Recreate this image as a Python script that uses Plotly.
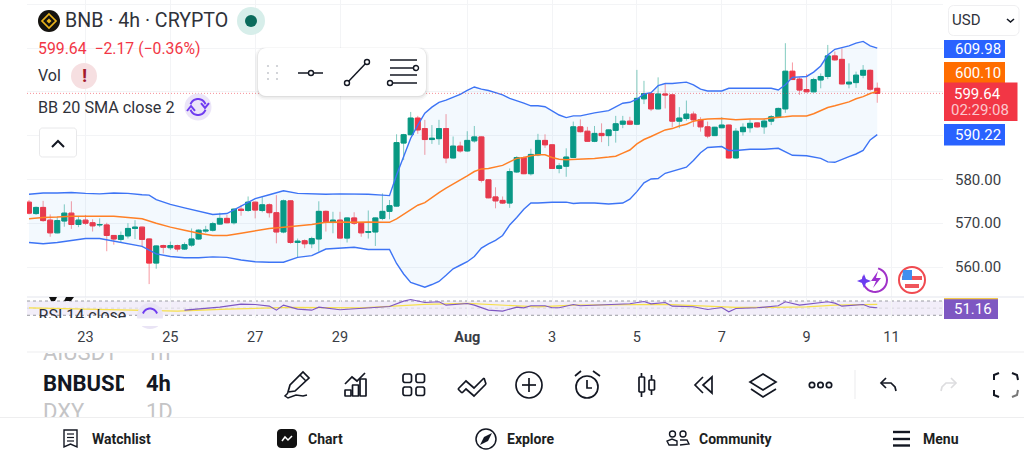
import math
import pandas as pd
import plotly.graph_objects as go

# ---------- data ----------
first_bar = "2024-07-21 16:00"
opens = [574.8,572.2,573.6,570.7,567.8,570.5,572.3,569.7,570.7,570.1,
569.6,569.6,567.2,566.3,567.1,568.8,569.1,566.4,560.9,564.9,
564.4,564.9,564.1,565.0,566.4,568.2,568.4,569.8,571.1,570.1,
573.2,572.9,574.8,572.9,574.2,572.4,568.0,575.1,565.6,566.0,
565.3,566.4,572.7,570.3,570.7,566.6,571.2,570.0,567.9,568.0,
571.1,572.7,573.9,588.3,590.2,594.0,591.6,589.1,589.3,591.6,
584.9,587.6,586.5,588.8,589.7,579.9,576.0,575.2,574.6,581.7,
585.0,581.3,585.6,588.9,587.9,582.5,583.0,585.0,592.0,591.0,
588.7,590.5,590.0,591.2,592.6,593.3,592.6,598.4,599.6,596.1,
599.5,599.3,593.3,593.9,594.9,593.6,592.0,590.0,591.8,592.4,
584.9,590.9,591.8,592.9,592.0,593.3,594.3,596.1,604.7,602.9,
600.5,600.0,602.7,603.5,608.2,607.4,601.8,602.1,603.8,604.9,600.8]
highs = [575.3,573.8,575.1,572.0,571.5,574.3,575.0,571.5,571.9,570.9,
571.1,570.1,567.3,568.1,570.0,570.7,569.2,566.5,564.9,565.1,
565.8,565.1,565.6,568.8,568.6,569.4,570.3,572.4,571.9,573.4,
574.2,576.1,574.9,576.1,574.5,576.4,575.4,575.2,566.5,566.3,
566.9,575.0,572.9,572.6,572.6,571.3,572.5,570.2,572.9,571.3,
576.8,575.3,590.3,590.4,595.4,594.5,593.6,592.4,593.6,594.9,
589.8,588.6,591.0,592.2,589.8,580.0,578.2,576.1,582.5,585.3,
585.3,587.0,590.4,590.3,588.0,583.7,587.1,593.2,593.7,592.0,
592.2,592.8,591.4,594.5,594.5,594.3,605.0,602.5,599.7,603.3,
601.9,599.4,596.5,598.0,595.5,594.2,593.2,592.0,594.2,592.5,
591.7,592.8,593.7,593.0,593.9,594.7,596.4,611.1,606.7,603.3,
604.1,603.2,604.2,610.7,609.2,609.9,606.5,604.6,606.1,605.1,602.1]
lows = [572.0,571.9,570.3,566.9,567.7,569.2,568.7,569.1,569.6,568.1,
569.1,563.6,565.1,565.6,566.5,566.4,564.6,556.1,559.6,563.1,
563.9,563.5,563.9,564.6,566.2,567.8,568.1,569.6,570.0,569.7,
571.7,572.6,571.1,572.5,571.3,565.4,567.7,565.3,562.2,564.3,
564.3,563.5,568.1,567.7,566.5,565.6,569.6,566.9,566.5,564.8,
570.7,570.9,573.8,584.4,590.1,590.4,585.6,588.1,587.9,583.7,
584.8,586.1,586.3,588.4,579.3,575.7,573.4,574.4,573.5,581.5,
581.2,580.9,585.3,587.2,582.4,581.4,580.6,584.9,590.7,588.6,
588.5,588.5,587.6,588.4,591.7,592.4,592.4,597.2,595.6,596.0,
596.2,591.9,591.7,593.4,592.0,590.9,589.4,589.9,591.7,584.8,
584.8,590.0,590.7,591.8,590.4,592.4,594.2,595.2,602.7,599.3,
599.9,599.9,600.8,602.9,607.1,601.7,600.8,600.9,603.1,600.2,597.5]
closes = [572.3,573.6,570.6,567.8,570.6,572.3,569.7,570.7,570.0,569.4,
569.7,567.2,566.4,567.2,568.8,569.1,566.3,560.9,564.8,564.5,
564.9,564.1,565.1,566.4,568.4,568.4,569.9,571.1,570.1,573.2,
572.9,574.8,573.0,574.2,572.4,568.0,575.1,565.6,565.9,565.3,
566.5,572.7,570.3,570.7,566.6,571.2,570.0,567.8,568.1,571.2,
572.7,574.0,588.4,590.2,594.0,591.3,589.1,589.4,591.6,584.9,
587.6,586.5,588.9,589.7,579.8,575.8,575.1,574.6,581.8,585.0,
581.3,585.7,588.9,587.9,582.5,583.1,585.1,592.0,590.9,588.7,
590.5,590.0,591.3,592.7,593.3,592.6,598.5,599.6,596.1,599.5,
599.3,593.3,594.0,594.9,593.6,592.0,589.9,591.9,592.4,584.9,
591.0,591.9,592.8,592.0,593.3,594.3,596.2,604.7,602.8,600.4,
600.0,602.8,603.5,608.2,607.3,601.8,602.2,603.8,604.9,600.6,599.64]

upper_bars = [0,2,4,6,8,10,12,14,16,17,18,20,22,24,26,28,30,32,34,36,38,40,42,44,46,48,50,51,
52,53,54,55,56,57,58,59,60,61,62,63,64,65,66,67,68,69,70,71,72,73,74,75,76,77,78,80,82,83,84,85,86,
87,88,89,90,91,92,93,94,95,96,98,99,100,102,105,106,107,108,109,110,111,112,113,114,115,116,117,118,119,120]
upper_band = [576.6,576.9,576.9,577.0,576.8,576.7,576.9,576.8,576.5,576.4,575.4,574.3,573.5,572.8,572.0,572.2,573.9,575.6,576.5,577.4,576.8,576.7,576.6,576.7,576.7,576.6,576.4,576.3,
581.0,585.0,589.4,592.4,595.1,596.5,597.6,598.1,598.7,599.4,600.3,601.1,600.6,600.3,599.8,599.3,598.5,598.0,597.4,596.8,596.8,596.6,595.6,594.7,594.1,594.5,594.5,595.2,595.7,596.5,597.4,597.6,598.3,
599.5,599.8,601.4,601.9,601.9,602.0,602.2,601.6,600.6,600.2,600.2,600.8,600.8,600.8,600.8,600.4,601.6,603.3,603.4,603.5,604.5,605.9,608.4,609.7,610.1,610.5,611.1,611.5,610.5,609.98]

basis_bars = [0,2,4,6,8,10,12,14,16,18,20,22,24,26,28,30,32,34,36,38,40,42,44,46,48,50,51,
52,53,54,55,56,57,58,59,60,61,62,63,64,65,66,67,68,69,70,71,72,73,74,75,76,78,80,82,83,84,85,86,87,
88,89,90,91,92,93,94,95,96,98,100,102,104,105,106,107,108,110,111,112,113,114,115,116,117,118,119,120]
basis_band = [571.0,571.3,571.4,571.6,571.6,571.6,571.6,571.3,571.0,570.0,569.1,568.4,567.7,567.2,567.2,567.7,568.3,568.8,569.1,569.4,569.7,570.2,570.3,570.2,570.3,570.2,570.2,
571.0,572.0,573.1,574.1,574.7,575.9,577.0,578.0,578.9,579.9,580.8,581.8,582.4,582.5,582.8,583.2,584.0,584.8,585.0,585.4,585.6,585.6,585.0,584.6,584.5,584.6,584.8,585.1,585.3,586.0,586.7,588.1,589.1,
589.8,590.5,591.3,591.6,592.2,592.6,593.3,593.6,593.8,593.9,593.6,593.8,593.8,594.0,594.1,594.3,594.5,594.5,595.0,595.7,596.4,596.8,597.2,597.7,598.4,598.9,599.6,600.10]

lower_bars = [0,2,4,6,8,10,12,14,16,18,20,22,24,26,28,30,32,34,36,38,40,42,44,46,48,50,51,
52,53,54,55,56,57,58,59,60,61,62,63,64,65,66,67,68,69,70,71,72,74,76,77,78,80,82,84,85,86,87,88,89,90,
92,93,94,95,96,98,99,100,102,104,106,107,108,110,112,113,114,116,117,118,119,120]
lower_band = [565.6,565.3,565.6,566.1,566.5,566.5,565.9,565.4,564.7,563.0,562.4,562.1,562.1,562.3,562.2,561.6,561.2,561.1,561.1,562.2,562.6,564.1,564.3,564.5,564.0,564.0,564.0,
560.8,558.4,556.5,555.9,555.4,556.0,556.7,558.1,559.6,560.4,561.2,562.4,564.3,565.3,566.1,567.2,569.6,571.3,573.2,574.6,574.6,574.8,574.8,574.5,574.6,574.6,574.4,574.6,575.5,577.2,579.2,580.1,580.2,581.4,
582.3,582.8,584.3,586.1,587.3,587.5,586.6,586.6,586.9,586.9,587.1,586.3,585.5,585.4,584.8,584.0,583.9,585.2,585.8,586.6,589.0,590.22]

rsi_bars = [22,25,27,30,32,34,35,36,38,40,41,44,47,49,51,53,54,56,58,59,61,62,63,65,67,69,70,71,73,74,75,77,78,82,85,87,88,90,91,94,96,98,99,100,103,106,107,109,111,113,114,115,118,119,120]
rsi_values = [44.4,49.1,52.8,61.2,60.3,55.6,44.4,58.4,47.2,44.4,52.8,45.3,49.1,51.9,54.7,69.6,74.3,65.9,67.8,58.4,60.3,63.1,58.4,44.4,41.6,52.8,50.9,56.5,56.5,50.9,50.9,60.3,56.5,60.3,62.1,68.7,62.1,65.9,55.6,53.7,46.3,51.9,39.7,49.1,50.9,56.5,67.8,58.4,62.1,67.8,64.0,55.6,60.3,52.8,51.16]
rsi_ma_bars = [0,14,21,28,37,47,56,62,67,72,77,90,95,100,105,110,114,120]
rsi_ma_values = [50.9,45.3,41.6,47.2,51.9,50.9,60.3,63.1,58.4,53.7,58.4,60.3,56.5,51.9,51.9,53.7,58.4,60.3]

price_ticks = [560,570,580,590,600,610,620]
price_labels = ["560.00","570.00","580.00","","","",""]
time_ticks = ["2024-07-23","2024-07-25","2024-07-27","2024-07-29","2024-08-01","2024-08-03","2024-08-05","2024-08-07","2024-08-09","2024-08-11"]
time_labels = ["23","25","27","29","<b>Aug</b>","3","5","7","9","11"]

last_price = 599.64
# ---------- geometry of the page ----------
W, H = 1024, 461
FONT = "Roboto"
INK = "#131722"
TXT = "#2f323a"
RED = "#F23645"
GREEN = "#089981"
BLUE = "#3d74f5"
ORANGE = "#FF8026"
PL, PR = 27, 943          # pane left / right in page pixels
GRID = "#f3f4f6"

def px(x): return x / W
def py(y): return 1 - y / H

shapes, notes = [], []

def rect(x0, y0, x1, y1, fill=None, line=None, lw=1, layer="above"):
    shapes.append(dict(type="rect", xref="paper", yref="paper", x0=px(x0), x1=px(x1), y0=py(y0), y1=py(y1),
                       fillcolor=fill or "rgba(0,0,0,0)", line=dict(color=line or "rgba(0,0,0,0)", width=lw if line else 0), layer=layer))

def circle(cx, cy, r, fill=None, line=None, lw=1):
    shapes.append(dict(type="circle", xref="paper", yref="paper", x0=px(cx - r), x1=px(cx + r), y0=py(cy + r), y1=py(cy - r),
                       fillcolor=fill or "rgba(0,0,0,0)", line=dict(color=line or "rgba(0,0,0,0)", width=lw if line else 0), layer="above"))

def poly(pts, fill=None, line=INK, lw=1.7, close=False):
    d = "M" + " L".join(f"{px(x):.5f},{py(y):.5f}" for x, y in pts) + (" Z" if close else "")
    shapes.append(dict(type="path", xref="paper", yref="paper", path=d, fillcolor=fill or "rgba(0,0,0,0)",
                       line=dict(color=line or "rgba(0,0,0,0)", width=lw if line else 0), layer="above"))

def rrect(x0, y0, x1, y1, r, fill=None, line=INK, lw=1.7):
    pts = []
    for cx, cy, a0 in ((x1 - r, y0 + r, -90), (x1 - r, y1 - r, 0), (x0 + r, y1 - r, 90), (x0 + r, y0 + r, 180)):
        for k in range(7):
            a = math.radians(a0 + 15 * k)
            pts.append((cx + r * math.cos(a), cy + r * math.sin(a)))
    poly(pts, fill=fill, line=line, lw=lw, close=True)

def arc(cx, cy, r, a0, a1, line=INK, lw=1.7):
    n = max(6, int(abs(a1 - a0) / 12))
    poly([(cx + r * math.cos(math.radians(a0 + (a1 - a0) * k / n)), cy + r * math.sin(math.radians(a0 + (a1 - a0) * k / n))) for k in range(n + 1)], line=line, lw=lw)

def text(x, y, s, size=15, color=TXT, anchor="left"):
    notes.append(dict(x=px(x), y=py(y), xref="paper", yref="paper", text=s, showarrow=False, xanchor=anchor, yanchor="middle",
                      font=dict(family=FONT, size=size, color=color), borderpad=0, borderwidth=0))

def sync_icon(cx, cy, r=8, col="#6f3cf0"):
    arc(cx, cy, r, 200, 340, line=col, lw=2)
    arc(cx, cy, r, 20, 160, line=col, lw=2)
    poly([(cx + r + 3, cy - 4), (cx + r - 1, cy + 1), (cx + r - 5, cy - 4)], line=col, lw=2)
    poly([(cx - r - 3, cy + 4), (cx - r + 1, cy - 1), (cx - r + 5, cy + 4)], line=col, lw=2)

# ---------- marks ----------
t0 = pd.Timestamp(first_bar)
step = pd.Timedelta(hours=4)
bars = [t0 + i * step for i in range(len(closes))]
at = lambda idx: [t0 + i * step for i in idx]
tops = [max(o, c) for o, c in zip(opens, closes)]
bots = [min(o, c) for o, c in zip(opens, closes)]

fig = go.Figure()
# wicks (pale) and bodies (solid)
fig.add_trace(go.Candlestick(x=bars, open=opens, high=highs, low=lows, close=closes, whiskerwidth=0, hoverinfo="skip", showlegend=False,
    increasing=dict(line=dict(color="rgba(8,153,129,0.5)", width=1), fillcolor="rgba(0,0,0,0)"),
    decreasing=dict(line=dict(color="rgba(242,54,69,0.5)", width=1), fillcolor="rgba(0,0,0,0)")))
fig.add_trace(go.Candlestick(x=bars, open=opens, high=tops, low=bots, close=closes, whiskerwidth=0, hoverinfo="skip", showlegend=False,
    increasing=dict(line=dict(color=GREEN, width=1), fillcolor=GREEN),
    decreasing=dict(line=dict(color=RED, width=1), fillcolor=RED)))
fig.add_trace(go.Scatter(x=at(lower_bars), y=lower_band, mode="lines", line=dict(color=BLUE, width=1.4), hoverinfo="skip", showlegend=False))
fig.add_trace(go.Scatter(x=at(upper_bars), y=upper_band, mode="lines", line=dict(color=BLUE, width=1.4), fill="tonexty",
                         fillcolor="rgba(33,150,243,0.055)", hoverinfo="skip", showlegend=False))
fig.add_trace(go.Scatter(x=at(basis_bars), y=basis_band, mode="lines", line=dict(color=ORANGE, width=1.5), hoverinfo="skip", showlegend=False))

fig.add_trace(go.Scatter(x=at(rsi_ma_bars), y=rsi_ma_values, mode="lines", line=dict(color="#F7E04B", width=1.2), xaxis="x2", yaxis="y2", hoverinfo="skip", showlegend=False))
fig.add_trace(go.Scatter(x=at(rsi_bars), y=rsi_values, mode="lines", line=dict(color="#7E57C2", width=1.1), xaxis="x2", yaxis="y2", hoverinfo="skip", showlegend=False))
fig.add_trace(go.Scatter(x=[t0 + 1.35 * step], y=[24.5], mode="text", text=["RSI 14 close"], textposition="middle right", cliponaxis=True,
                         textfont=dict(family=FONT, size=16, color=TXT), xaxis="x2", yaxis="y2", hoverinfo="skip", showlegend=False))
# scroll pickers, clipped by their own little panes
fig.add_trace(go.Scatter(x=[43, 43, 43], y=[354, 385, 413], mode="text", text=["AIUSDT", "<b>BNBUSDT</b>", "DXY"], textposition="middle right", cliponaxis=True,
                         textfont=dict(family=FONT, size=22, color=["#c4c4c6", INK, "#c4c4c6"]), xaxis="x3", yaxis="y3", hoverinfo="skip", showlegend=False))
fig.add_trace(go.Scatter(x=[146, 146, 146], y=[354, 385, 413], mode="text", text=["1h", "<b>4h</b>", "1D"], textposition="middle right", cliponaxis=True,
                         textfont=dict(family=FONT, size=22, color=["#c4c4c6", INK, "#c4c4c6"]), xaxis="x4", yaxis="y4", hoverinfo="skip", showlegend=False))

# ---------- panes and page furniture ----------
ylo = lambda v: dict(type="line", xref="paper", yref="y2", x0=px(PL), x1=px(PR), y0=v, y1=v, layer="below")
shapes.append(dict(type="rect", xref="paper", yref="y2", x0=px(PL), x1=px(PR), y0=30, y1=70, fillcolor="rgba(126,87,194,0.10)", line=dict(width=0), layer="below"))
shapes.append({**ylo(70), "line": dict(color="#9a9ca3", width=1, dash="3px,3px")})
shapes.append({**ylo(30), "line": dict(color="#9a9ca3", width=1, dash="3px,3px")})
shapes.append({**ylo(50), "line": dict(color="#d8d6de", width=1, dash="3px,3px")})
shapes.append(dict(type="line", xref="paper", yref="y", x0=px(PL), x1=px(PR), y0=last_price, y1=last_price, layer="above",
                   line=dict(color="rgba(242,54,69,0.55)", width=1, dash="1px,2px")))
rect(PL, 296.5, W, 297.5, fill="#e3e5ee")
rect(PL, 351.5, W, 352.5, fill="#eeeeef")
rect(0, 417, W, 418, fill="#eeeeef")

# logo + header badges
circle(49, 21, 11, fill="#15130f")
poly([(49, 14), (56, 21), (49, 28), (42, 21)], line="#e8b21b", lw=1.7, close=True)
poly([(49, 18.5), (51.5, 21), (49, 23.5), (46.5, 21)], fill="#e8b21b", line=None, close=True)
circle(251, 21, 14, fill="#d7eeea")
circle(251, 21, 6, fill="#0b6b5c")
text(65, 21, "BNB · 4h · CRYPTO", 19.6, "#2f323a")
text(38, 48, "599.64  −2.17 (−0.36%)", 15.8, RED)
text(38, 75, "Vol", 16)
circle(84, 76, 13, fill="#f6dfe1")
text(84, 75, "<b>!</b>", 19, "#a31a2c", "center")
text(38, 107, "BB 20 SMA close 2", 16.2)
circle(198, 107, 13.5, fill="#ebe5f8")
sync_icon(198, 107)
rrect(39.5, 128, 76.5, 157, 3, fill="white", line="#e8e8ea", lw=1)
poly([(52, 147), (58, 141), (64, 147)], line=INK, lw=2)

# floating drawing toolbar
rrect(255, 47, 429, 100, 10, fill="rgba(0,0,0,0.03)", line=None)
rrect(256.5, 48, 427.5, 98.5, 9, fill="rgba(0,0,0,0.04)", line=None)
rrect(257.5, 48, 426.5, 97, 8, fill="rgba(0,0,0,0.06)", line=None)
rrect(258, 48, 426, 96, 8, fill="white", line=None)
for dx in (268, 277):
    for dy in (66, 73, 79):
        circle(dx, dy, 1.1, fill="#c9cbd0")
poly([(298, 73), (323, 73)], lw=1.5); circle(311, 73, 2.5, fill="white", line=INK, lw=1.4)
poly([(347, 83), (367, 62)], lw=1.5)
circle(347, 83, 2.5, fill="white", line=INK, lw=1.4); circle(367, 62, 2.5, fill="white", line=INK, lw=1.4)
poly([(390, 60), (417, 60)], lw=1.5); poly([(390, 68), (413, 68)], lw=1.5)
poly([(390, 75), (417, 75)], lw=1.5); poly([(393, 83), (417, 83)], lw=1.5)
circle(416, 68, 2.5, fill="white", line=INK, lw=1.4); circle(390, 83, 2.5, fill="white", line=INK, lw=1.4)

# RSI legend badge, cut off by the time scale
circle(150, 316, 13, fill="#e9e4f5")
arc(150, 316, 7.5, 200, 340, line="#6f3cf0", lw=2)
rect(PL, 318.5, PR, 326, fill="white")
poly([(49, 297), (57, 297), (55, 301), (51, 301)], fill="#111", line=None, close=True)
poly([(66, 297), (74, 297), (71, 301), (64, 301)], fill="#111", line=None, close=True)

# price tags
rect(944, 40, 1005, 58, fill="#2962FF"); text(977.5, 49, "609.98", 15, "white", "center")
rect(944, 62, 1005, 84, fill="#FF6D00"); text(977.5, 73, "600.10", 15, "white", "center")
rect(944, 82.5, 1017.5, 121, fill=RED); text(977.5, 94, "599.64", 15, "white", "center")
text(980, 110, "02:29:08", 15, "#fbc8cd", "center")
rect(944, 124, 1005, 145.5, fill="#2962FF"); text(977.5, 135, "590.22", 15, "white", "center")
rect(944, 298, 998, 319, fill="#7E57C2"); rect(944, 298, 998, 299.3, fill="#f2c94c"); text(973, 309, "51.16", 15, "white", "center")

# currency box
rrect(948.5, 5.5, 1019, 35.5, 5, fill="white", line="#efeff1", lw=1)
text(952, 19.5, "USD", 15, "#2f323a")
poly([(1007, 19), (1010.5, 22), (1014, 19)], lw=1.6)

# small floating icons
arc(875, 280, 12, -75, 200, line="#a032c8", lw=2)
poly([(878, 271), (871, 281), (876, 281), (873, 288), (881, 278), (876, 278)], fill="#9c2fd0", line=None, close=True)
poly([(864, 274), (866, 279), (871, 281), (866, 283), (864, 288), (862, 283), (857, 281), (862, 279)], fill="#6a3df0", line=None, close=True)
circle(912, 280, 13, fill="white", line="#f04a50", lw=2)
rect(902, 276, 922, 280, fill="#f0555b"); rect(905, 284, 919, 288, fill="#f0555b")
poly([(903, 270), (912, 270), (912, 280), (902, 280)], fill="#3f8ff0", line=None, close=True)

# lower tool strip
poly([(288, 392), (290, 385), (303, 372), (309, 378), (295, 391)], close=True)
poly([(300, 375), (306, 381)], lw=1.5)
poly([(288, 393), (285, 396), (288, 398), (296, 395), (303, 396), (307, 395)], lw=1.5)
rrect(345, 390, 351, 396, 0.5); rrect(352.5, 385, 358.5, 396, 0.5); rrect(360, 379, 366, 396, 0.5)
poly([(345, 384), (352, 377), (357, 381), (365, 373)])
for a, b in ((403, 374), (416, 374), (403, 387), (416, 387)):
    rrect(a, b, a + 8.5, b + 8.5, 2)
poly([(458, 389), (466, 381), (474, 388), (484, 378)]); poly([(462, 393), (466, 389), (474, 396), (486, 384)])
poly([(458, 389), (462, 393)]); poly([(484, 378), (486, 384)])
circle(529, 385, 13, line=INK, lw=1.7); poly([(522, 385), (536, 385)]); poly([(529, 378), (529, 392)])
circle(587, 387, 11, line=INK, lw=1.7); poly([(587, 380), (587, 388), (592, 388)])
poly([(575, 376), (581, 371)]); poly([(593, 371), (600, 376)])
poly([(641.5, 373), (641.5, 397)]); rrect(639, 377, 644.5, 392, 1, fill="white")
poly([(651.5, 375), (651.5, 395)]); rrect(649, 380, 654.5, 390, 1, fill="white")
poly([(703, 377), (695, 385), (703, 393)]); poly([(712, 377), (703, 385), (712, 393)], close=True)
poly([(763, 374), (776, 382), (763, 390), (750, 382)], close=True); poly([(751, 389), (763, 397), (776, 389)])
for c in (812, 820.5, 829):
    circle(c, 385, 2.7, line=INK, lw=1.7)
rect(854.5, 370, 855.5, 399, fill="#ececee")
poly([(886, 378), (881, 383), (886, 388)]); poly([(881, 383), (891, 383), (895, 387), (896, 391)])
poly([(951, 378), (956, 383), (951, 388)], line="#dddddf"); poly([(956, 383), (946, 383), (942, 387), (941, 391)], line="#dddddf")
poly([(994, 380), (994, 375), (999, 373)], lw=2); poly([(1012, 373), (1017, 375), (1018, 380)], lw=2)
poly([(994, 390), (994, 395), (999, 397)], lw=2); poly([(1012, 397), (1017, 395), (1018, 390)], line="#777", lw=2)

# bottom navigation
poly([(64, 430), (77, 430), (77, 447), (70.5, 444), (64, 447)], lw=1.4, close=True)
for yy in (434, 437.5, 441):
    poly([(67, yy), (74, yy)], lw=1.2)
text(92, 439, "<b>Watchlist</b>", 14, "#1c1e22")
rrect(277, 429, 297, 448, 4, fill="#111", line=None)
poly([(282, 441), (285, 437), (288, 440), (292, 436)], line="white", lw=1.5)
text(308, 439, "<b>Chart</b>", 14, "#1c1e22")
circle(486, 439, 10, line=INK, lw=1.5)
poly([(492, 433), (488, 441), (480, 445), (484, 437)], fill=INK, line=None, close=True)
text(507, 439, "<b>Explore</b>", 14, "#1c1e22")
circle(672.5, 434, 3, line=INK, lw=1.4); circle(683, 434, 3, line=INK, lw=1.4)
poly([(669, 445), (667, 441), (672, 439), (677, 441), (677, 445)], lw=1.4, close=True)
poly([(680, 440), (687, 440), (689, 444), (680, 445)], lw=1.4)
text(699, 439, "<b>Community</b>", 14, "#1c1e22")
for yy in (432, 439, 445.5):
    poly([(893, yy), (910, yy)], lw=2.4)
text(923, 439, "<b>Menu</b>", 14, "#1c1e22")

# ---------- axes ----------
xrange = [t0 - 0.28 * step, t0 + 129.3 * step]
dom_x = [px(PL), px(PR)]
axis_off = dict(visible=False, fixedrange=True)
fig.update_layout(
    width=W, height=H, margin=dict(l=0, r=0, t=0, b=0), paper_bgcolor="white", plot_bgcolor="white",
    showlegend=False, boxgap=0.0, boxmode="overlay", hovermode=False,
    font=dict(family=FONT, color=TXT), shapes=shapes, annotations=notes,
    xaxis=dict(domain=dom_x, range=xrange, anchor="y", type="date", tickvals=time_ticks, ticktext=[""] * len(time_ticks),
               showgrid=True, gridcolor=GRID, gridwidth=1, zeroline=False, showline=False, ticks="", rangeslider=dict(visible=False)),
    yaxis=dict(domain=[py(297), py(0)], range=[553.15, 620.96], anchor="x", side="right", tickvals=price_ticks, ticktext=price_labels,
               showgrid=True, gridcolor=GRID, gridwidth=1, zeroline=False, showline=False, ticks="outside", ticklen=8,
               tickcolor="rgba(0,0,0,0)", tickfont=dict(family=FONT, size=15, color="#3a3d45")),
    xaxis2=dict(domain=dom_x, matches="x", anchor="y2", type="date", tickvals=time_ticks, ticktext=time_labels, showgrid=True, gridcolor=GRID,
                zeroline=False, showline=False, ticks="outside", ticklen=6, tickcolor="rgba(0,0,0,0)",
                tickfont=dict(family=FONT, size=14.5, color="#3a3d45"), tickangle=0, rangeslider=dict(visible=False)),
    yaxis2=dict(domain=[py(318), py(298)], range=[22.4, 78.4], anchor="x2", showticklabels=False, showgrid=False, zeroline=False, showline=False, ticks=""),
    xaxis3=dict(domain=[px(40), px(124)], range=[40, 124], anchor="y3", **axis_off),
    yaxis3=dict(domain=[py(417), py(353)], range=[417, 353], anchor="x3", **axis_off),
    xaxis4=dict(domain=[px(143), px(176)], range=[143, 176], anchor="y4", **axis_off),
    yaxis4=dict(domain=[py(417), py(353)], range=[417, 353], anchor="x4", **axis_off),
)
fig.write_html("out.html", config=dict(displayModeBar=False), post_script="document.body.style.margin='0';")
